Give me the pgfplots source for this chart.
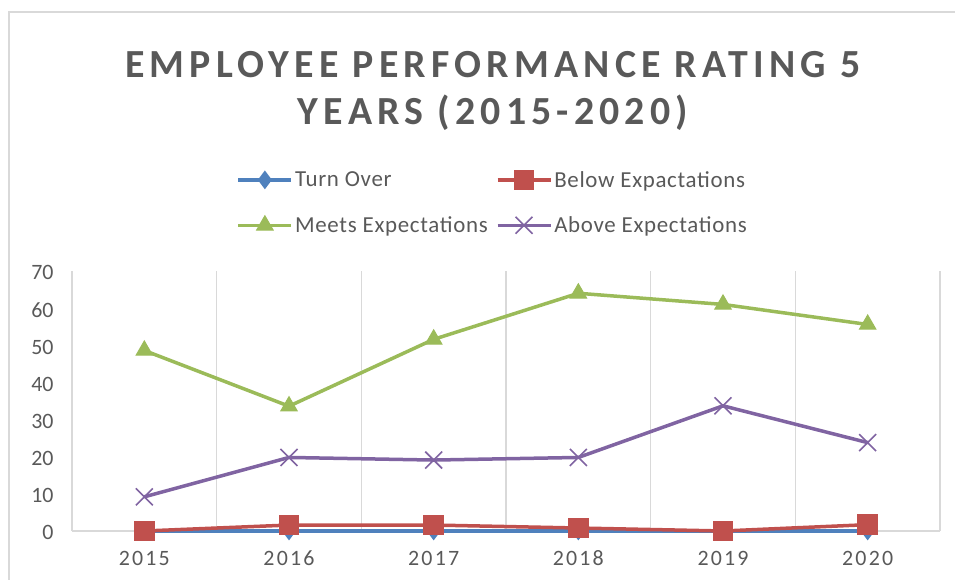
\documentclass[border=0pt]{standalone}
\usepackage{pgfplots}
\pgfplotsset{compat=1.18}
\usepackage{fontspec}
\setmainfont[Numbers=Lining]{Carlito}
\newfontfamily\titlefont[LetterSpace=13,Numbers=Lining]{Carlito}
\newfontfamily\xtickfont[LetterSpace=10,Numbers=Lining]{Carlito}
\newfontfamily\legfont[LetterSpace=3,Numbers=Lining]{Carlito}
\definecolor{txt}{HTML}{595959}
\definecolor{cA}{HTML}{4F81BD}
\definecolor{cB}{HTML}{C0504D}
\definecolor{cC}{HTML}{9BBB59}
\definecolor{cD}{HTML}{8064A2}
\definecolor{gridc}{HTML}{D9D9D9}
\begin{document}
\begin{tikzpicture}[x=1bp,y=1bp]
\begin{axis}[
  scale only axis,
  width=868bp, height=260bp,
  xmin=-0.5, xmax=5.5, ymin=0, ymax=70,
  xtick={0,1,2,3,4,5},
  xticklabels={2015,2016,2017,2018,2019,2020},
  minor xtick={-0.5,0.5,1.5,2.5,3.5,4.5,5.5},
  xminorgrids,
  minor grid style={draw=gridc, line width=1.2bp},
  ytick={0,10,20,30,40,50,60,70},
  extra y ticks={0}, extra y tick labels={},
  extra y tick style={grid=major, major grid style={draw=gridc, line width=1.2bp}},
  major tick length=0, minor tick length=0,
  axis line style={draw=none},
  /pgf/number format/assume math mode=true,
  xticklabel style={font=\xtickfont\fontsize{22}{22}\selectfont, text=txt, anchor=base, yshift=-35bp},
  yticklabel style={font=\fontsize{22}{22}\selectfont, text=txt, anchor=base east, xshift=-15bp, yshift=-9bp},
  clip=false,
  legend columns=2,
  legend cell align=left,
  legend style={at={(axis description cs:0.186,1.40)}, anchor=north west, draw=none, fill=none,
    font=\legfont\fontsize{23}{26}\selectfont, text=txt, column sep=0bp, row sep=24bp,
    /tikz/every even column/.append style={column sep=6bp}},
  legend image code/.code={\draw[mark repeat=2,mark phase=2,#1] plot coordinates {(0bp,0bp) (26.5bp,0bp) (53bp,0bp)};},
]
\coordinate (O) at (rel axis cs:0,0);
\addplot[cA, line width=3.5bp, mark=diamond*, mark size=6.5bp, mark options={solid}] coordinates {(0,0) (1,0) (2,0) (3,0) (4,0) (5,0)};
\addlegendentry{Turn Over}
\addplot[cB, line width=3.5bp, mark=square*, mark size=8.5bp] coordinates {(0,0) (1,1.6) (2,1.6) (3,0.8) (4,0) (5,1.7)};
\addlegendentry{Below Expactations}
\addplot[cC, line width=3.5bp, mark=triangle*, mark size=9.5bp, mark options={line width=1bp}] coordinates {(0,48.6) (1,33.6) (2,51.6) (3,64) (4,61) (5,55.6)};
\addlegendentry{Meets Expectations}
\addplot[cD, line width=3.5bp, mark=x, mark size=12bp, mark options={line width=1.6bp}] coordinates {(0,9.2) (1,19.8) (2,19.1) (3,19.8) (4,33.7) (5,23.8)};
\addlegendentry{Above Expectations}
\end{axis}
\draw[gridc, line width=1.2bp] ([shift={(-63,-80)}]O) -- ([shift={(-63,519)}]O) -- ([shift={(930,519)}]O);
\node[font=\titlefont\bfseries\fontsize{40}{48}\selectfont, text=txt, align=center] at ([shift={(421,440)}]O) {EMPLOYEE PERFORMANCE RATING 5\\YEARS (2015-2020)};
\pgfresetboundingbox
\path[use as bounding box] ([shift={(-72,-49)}]O) rectangle ([shift={(883,531)}]O);
\end{tikzpicture}
\end{document}
